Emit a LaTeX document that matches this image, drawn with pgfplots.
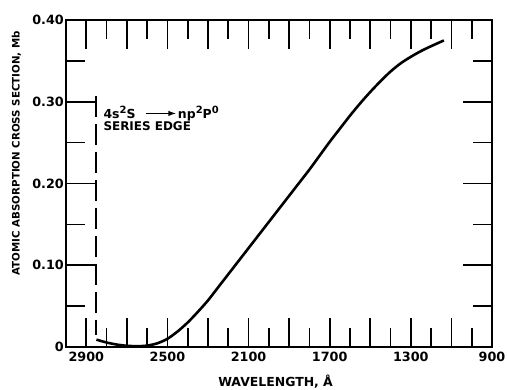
\documentclass[border=0pt]{standalone}
\usepackage{pgfplots}
\pgfplotsset{compat=1.18}
\usepackage{fontspec}
\setmainfont{DejaVu Sans}
\usetikzlibrary{arrows.meta}
\newcommand{\sups}[1]{\raisebox{5bp}{\fontsize{10}{10}\selectfont #1}}
\begin{document}
\begin{tikzpicture}
\path[use as bounding box] (-66bp,-42.3bp) rectangle (441bp,347bp);
\begin{axis}[
  scale only axis, width=426bp, height=327bp,
  x dir=reverse, xmin=900, xmax=3000, ymin=0, ymax=0.4,
  xtick={2900,2700,2500,2300,2100,1900,1700,1500,1300,1100,900},
  xticklabels={2900,,2500,,2100,,1700,,1300,,900},
  minor xtick={2800,2600,2400,2200,2000,1800,1600,1400,1200,1000},
  ytick={0,0.1,0.2,0.3,0.4},
  yticklabels={0,0.10,0.20,0.30,0.40},
  minor ytick={0.05,0.15,0.25,0.35},
  tick align=inside,
  major tick length=29bp, minor tick length=19bp,
  major tick style={line width=1.6pt, black},
  minor tick style={line width=1.6pt, black},
  axis line style={line width=1.8pt},
  tick label style={font=\bfseries\fontsize{12.8}{12.8}\selectfont},
  xticklabel style={yshift=-2bp},
  yticklabel style={inner sep=2pt},
  xlabel={WAVELENGTH, Å},
  xlabel style={at={(axis description cs:0.492,0)}, anchor=base, yshift=-39bp, font=\bfseries\fontsize{12.5}{12.5}\selectfont},
  ylabel={ATOMIC ABSORPTION CROSS SECTION, Mb},
  ylabel style={at={(axis description cs:-0.116,0.593)}, anchor=center, rotate=0, font=\bfseries\fontsize{10.3}{10.3}\selectfont},
]
\addplot[black, line width=2.6pt, smooth, tension=0.5] coordinates {
(2850,0.009) (2800,0.0055) (2750,0.003) (2700,0.0015) (2650,0.001) (2600,0.0017)
(2550,0.0045) (2500,0.010) (2450,0.019) (2400,0.030) (2350,0.043) (2300,0.057)
(2250,0.073) (2200,0.089) (2150,0.105) (2100,0.121) (2050,0.137) (2000,0.153)
(1950,0.169) (1900,0.185) (1850,0.201) (1800,0.217) (1750,0.234) (1700,0.251)
(1650,0.267) (1600,0.283) (1550,0.298) (1500,0.312) (1450,0.325) (1400,0.337)
(1350,0.347) (1300,0.355) (1250,0.362) (1200,0.368) (1137,0.375)
};
\addplot[black, line width=2pt, dash pattern=on 21bp off 7bp] coordinates {(2850,0.307) (2850,0.0143)};
\node[anchor=base west, inner sep=0, font=\bfseries\fontsize{12.5}{12.5}\selectfont] at (axis cs:2816,0.2796) {4s\sups{2}S};
\node[anchor=base west, inner sep=0, font=\bfseries\fontsize{12.5}{12.5}\selectfont] at (axis cs:2449,0.2796) {np\sups{2}P\sups{0}};
\draw[line width=1.4pt, -{Latex[length=8bp,width=5.5bp]}] (axis cs:2607,0.2857) -- (axis cs:2456,0.2857);
\node[anchor=base west, inner sep=0, font=\bfseries\fontsize{12}{12}\selectfont] at (axis cs:2816,0.2644) {SERIES EDGE};
\end{axis}
\end{tikzpicture}
\end{document}
